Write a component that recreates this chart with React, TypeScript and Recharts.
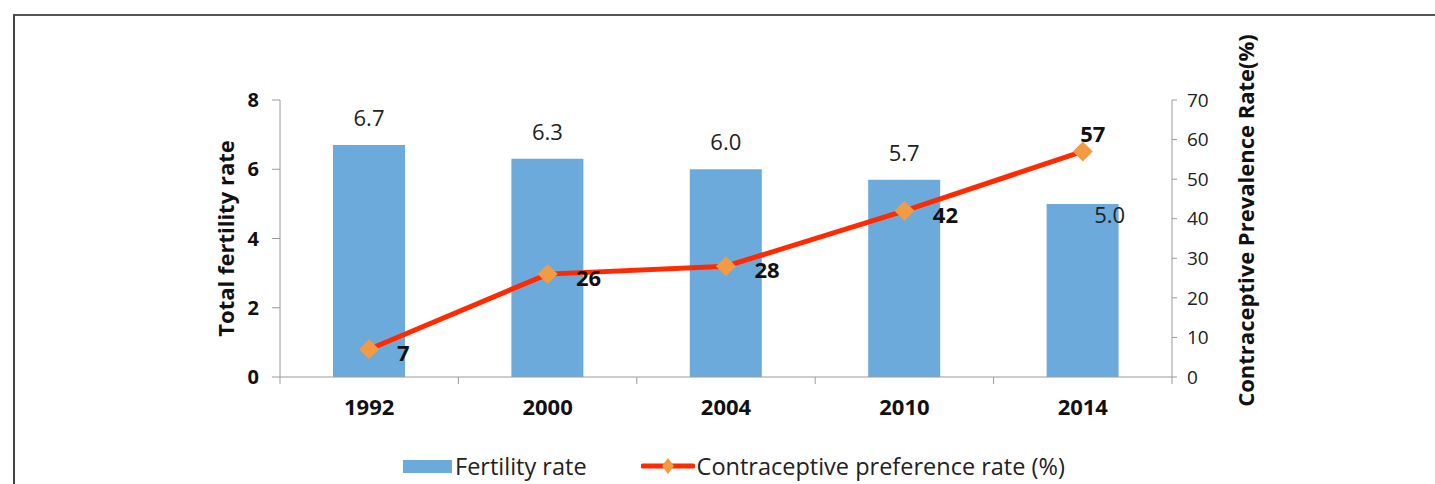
import {
  ComposedChart,
  Bar,
  Line,
  XAxis,
  YAxis,
  LabelList,
  Label,
  Legend,
} from "recharts";

const years = ["1992", "2000", "2004", "2010", "2014"];
const fertility = [6.7, 6.3, 6.0, 5.7, 5.0];
const contraceptive = [7, 26, 28, 42, 57];
const leftTicks = [0, 2, 4, 6, 8];
const rightTicks = [0, 10, 20, 30, 40, 50, 60, 70];

const data = years.map((year, i) => ({
  year,
  fertility: fertility[i],
  contraceptive: contraceptive[i],
}));

const FONT = "'Open Sans', sans-serif";
const BAR = "#6CAADC";
const LINE = "#FF2A00";
const DOT = "#F39A44";
const AXIS = "#9a9a9a";

const Diamond = (props: any) => {
  const { cx, cy } = props;
  if (cx == null || cy == null) return null;
  const r = 10;
  return (
    <path
      d={`M${cx},${cy - r} L${cx + r},${cy} L${cx},${cy + r} L${cx - r},${cy} Z`}
      fill={DOT}
    />
  );
};

const XTick = (props: any) => {
  const { x, y, payload, index } = props;
  const half = payload?.offset || 89;
  return (
    <g>
      <line x1={x - half} x2={x - half} y1={y - 8} y2={y - 1} stroke={AXIS} />
      {index === years.length - 1 && (
        <line x1={x + half} x2={x + half} y1={y - 8} y2={y - 1} stroke={AXIS} />
      )}
      <text
        x={x}
        y={y + 30}
        textAnchor="middle"
        fontFamily={FONT}
        fontWeight="bold"
        fontSize={22}
        fill="#111"
      >
        {payload.value}
      </text>
    </g>
  );
};

const barLabel = (props: any) => {
  const { x, y, width, value, index } = props;
  const last = index === years.length - 1;
  return (
    <text
      x={x + width / 2 + (last ? 27 : 0)}
      y={last ? y + 10 : y - 28}
      textAnchor="middle"
      dominantBaseline="central"
      fontFamily={FONT}
      fontSize={22}
      fill="#222"
    >
      {Number(value).toFixed(1)}
    </text>
  );
};

const lineLabel = (props: any) => {
  const { x, y, value, index } = props;
  const last = index === years.length - 1;
  return (
    <text
      x={x + (last ? 10 : index === 0 ? 34 : 41)}
      y={y + (last ? -18 : 3)}
      textAnchor="middle"
      dominantBaseline="central"
      fontFamily={FONT}
      fontWeight="bold"
      fontSize={22}
      fill="#111"
    >
      {value}
    </text>
  );
};

const LegendContent = () => (
  <div
    style={{
      display: "flex",
      alignItems: "center",
      fontFamily: FONT,
      fontSize: 23.5,
      color: "#222",
      whiteSpace: "nowrap",
    }}
  >
    <span
      style={{ width: 49, height: 13, background: BAR, display: "inline-block" }}
    />
    <span style={{ marginLeft: 3 }}>Fertility rate</span>
    <svg width={54} height={20} style={{ marginLeft: 54 }}>
      <line x1={2} x2={52} y1={10} y2={10} stroke={LINE} strokeWidth={5} strokeLinecap="round" />
      <path d="M27,2 L33,10 L27,18 L21,10 Z" fill={DOT} />
    </svg>
    <span style={{ marginLeft: 2 }}>Contraceptive preference rate (%)</span>
  </div>
);

const axisTitle = (text: string, dx: number, dy: number) => (p: any) => {
  const vb = p.viewBox;
  const cx = vb.x + dx;
  const cy = vb.y + vb.height / 2 + dy;
  return (
    <text
      x={cx}
      y={cy}
      transform={`rotate(-90 ${cx} ${cy})`}
      textAnchor="middle"
      dominantBaseline="central"
      fontFamily={FONT}
      fontWeight="bold"
      fontSize={22}
      fill="#111"
    >
      {text}
    </text>
  );
};

export default function App() {
  return (
    <div
      style={{
        position: "absolute",
        left: 0,
        top: 0,
        width: 1435,
        height: 484,
        background: "#fff",
        overflow: "hidden",
      }}
    >
      <div
        style={{
          position: "absolute",
          left: 13,
          top: 14,
          width: 1440,
          height: 480,
          borderLeft: "2px solid #444",
          borderTop: "2px solid #555",
        }}
      />
      <ComposedChart
        width={1435}
        height={484}
        data={data}
        margin={{ top: 100, right: 183, bottom: 67, left: 200 }}
        style={{ position: "absolute", left: 0, top: 0 }}
      >
        <XAxis
          dataKey="year"
          xAxisId="x"
          stroke={AXIS}
          tickLine={false}
          tick={<XTick />}
          height={40}
          interval={0}
        />
        <YAxis
          yAxisId="left"
          domain={[0, 8]}
          ticks={leftTicks}
          width={80}
          stroke={AXIS}
          tickSize={8}
          tick={{ fontFamily: FONT, fontWeight: "bold", fontSize: 20, fill: "#111", dx: -11 }}
        >
          <Label content={axisTitle("Total fertility rate", 25, 0)} />
        </YAxis>
        <YAxis
          yAxisId="right"
          orientation="right"
          domain={[0, 70]}
          ticks={rightTicks}
          width={80}
          stroke={AXIS}
          tickSize={5}
          tick={{ fontFamily: FONT, fontSize: 19, fill: "#222", dx: 8 }}
        >
          <Label content={axisTitle("Contraceptive Prevalence Rate(%)", 73, -18)} />
        </YAxis>
        <Bar
          dataKey="fertility"
          xAxisId="x"
          yAxisId="left"
          fill={BAR}
          barSize={72}
          isAnimationActive={false}
        >
          <LabelList dataKey="fertility" content={barLabel} />
        </Bar>
        <Line
          dataKey="contraceptive"
          xAxisId="x"
          yAxisId="right"
          stroke={LINE}
          strokeWidth={5}
          dot={<Diamond />}
          activeDot={false}
          isAnimationActive={false}
        >
          <LabelList dataKey="contraceptive" content={lineLabel} />
        </Line>
        <Legend
          verticalAlign="middle"
          layout="horizontal"
          content={<LegendContent />}
          wrapperStyle={{ position: "absolute", top: 450, left: 403, width: 900 }}
        />
      </ComposedChart>
    </div>
  );
}
